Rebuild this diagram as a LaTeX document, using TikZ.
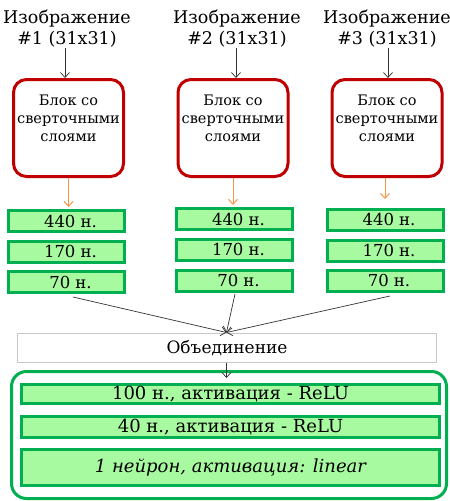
\documentclass[tikz,border=0pt]{standalone}
\usepackage{fontspec}
\setmainfont{DejaVu Serif}
\usetikzlibrary{arrows.meta}
\definecolor{gborder}{RGB}{0,176,80}
\definecolor{gfill}{RGB}{168,250,160}
\definecolor{rborder}{RGB}{192,0,0}
\definecolor{orarrow}{RGB}{247,150,70}
\definecolor{grayb}{RGB}{200,200,200}
\tikzset{
  ttl/.style={align=center, inner sep=0pt, font=\fontsize{17.5}{21}\selectfont},
  redbox/.style={draw=rborder, line width=3pt, rounded corners=13pt, minimum width=110pt, minimum height=97pt, inner sep=0pt},
  redtxt/.style={align=center, inner sep=0pt, font=\fontsize{14.5}{18}\selectfont},
  gbox/.style={draw=gborder, fill=gfill, line width=3pt, minimum width=116pt, minimum height=21pt, inner sep=0pt, font=\fontsize{16.5}{18}\selectfont},
  lbox/.style={draw=gborder, fill=gfill, line width=3pt, minimum width=418pt, inner sep=0pt, font=\fontsize{18}{20}\selectfont},
  bigbox/.style={draw=gborder, line width=3pt, rounded corners=15pt, minimum width=435pt, minimum height=127pt, inner sep=0pt},
  mergebox/.style={draw=grayb, fill=white, line width=1pt, minimum width=419pt, minimum height=29pt, inner sep=0pt, font=\fontsize{17}{18}\selectfont},
  barr/.style={draw=black!80, line width=0.7pt, -{Straight Barb[length=5pt,width=9pt]}},
  oarr/.style={draw=orarrow, line width=1pt, -{Straight Barb[length=5pt,width=9pt]}},
}
\begin{document}
\begin{tikzpicture}[x=1pt,y=-1pt]
\useasboundingbox (0,0) rectangle (450,501);
% titles
\node[ttl] (t1) at (67,29) {Изображение\\\#1 (31x31)};
\node[ttl] (t2) at (237,29) {Изображение\\\#2 (31x31)};
\node[ttl] (t3) at (387,29) {Изображение\\\#3 (31x31)};
% conv blocks
\node[redbox] (c1) at (68.5,128) {};
\node[redbox] (c2) at (233,128) {};
\node[redbox] (c3) at (387,128) {};
\node[redtxt] (c1t) at (68.5,118) {Блок со\\сверточными\\слоями};
\node[redtxt] (c2t) at (233,118) {Блок со\\сверточными\\слоями};
\node[redtxt] (c3t) at (387,118) {Блок со\\сверточными\\слоями};
\draw[barr] (t1.south -| 65,0) -- (c1.north -| 65,0);
\draw[barr] (t2.south -| 236,0) -- (c2.north -| 236,0);
\draw[barr] (t3.south -| 388,0) -- (c3.north -| 388,0);
% dense stacks
\node[gbox] (a1) at (66.5,221) {\hspace*{8pt}440 н.};
\node[gbox] (b1) at (66.5,251.5) {\hspace*{8pt}170 н.};
\node[gbox] (d1) at (66.5,282) {\hspace*{8pt}70 н.};
\node[gbox] (a2) at (234.5,219) {\hspace*{8pt}440 н.};
\node[gbox] (b2) at (234.5,249.5) {\hspace*{8pt}170 н.};
\node[gbox] (d2) at (234.5,280.5) {\hspace*{8pt}70 н.};
\node[gbox] (a3) at (385,219.5) {\hspace*{8pt}440 н.};
\node[gbox] (b3) at (385,250.5) {\hspace*{8pt}170 н.};
\node[gbox] (d3) at (385,280.5) {\hspace*{8pt}70 н.};
\coordinate (o1) at (68.5,207);
\coordinate (o2) at (233,205);
\coordinate (o3) at (385,199);
\draw[oarr] (c1.south) -- (o1);
\draw[oarr] (c2.south) -- (o2);
\draw[oarr] (c3.south -| o3) -- (o3);
% merge
\node[mergebox] (m) at (227,348) {Объединение};
\coordinate (s1) at (73,297);
\coordinate (s2) at (235,294);
\coordinate (s3) at (390,296);
\coordinate (mt) at (226.5,332.5);
\draw[barr] (s1) -- (mt);
\draw[barr] (s2) -- (mt);
\draw[barr] (s3) -- (mt);
% final block
\node[bigbox] (big) at (229,435) {};
\coordinate (e) at (226.5,378);
\draw[barr] (m.south -| e) -- (e);
\node[lbox, minimum height=19pt] (f1) at (230.5,394) {100 н., активация - ReLU};
\node[lbox, minimum height=21pt] (f2) at (230.5,427) {40 н., активация - ReLU};
\node[lbox, minimum height=36pt] (f3) at (230.5,467.5) {\itshape 1 нейрон, активация: linear};
\end{tikzpicture}
\end{document}
